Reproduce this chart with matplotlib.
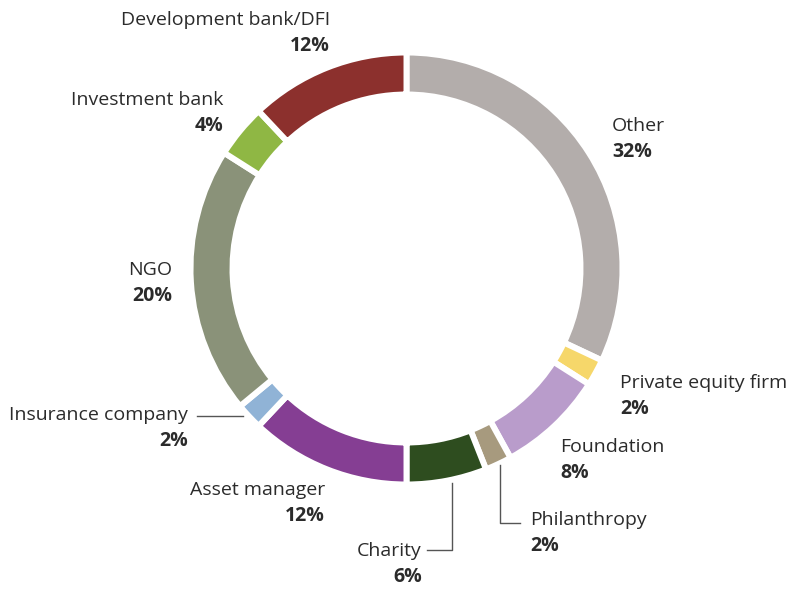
import matplotlib
matplotlib.use("Agg")
import matplotlib.pyplot as plt

# data, clockwise from the top
labels = ['Other', 'Private equity firm', 'Foundation', 'Philanthropy', 'Charity',
          'Asset manager', 'Insurance company', 'NGO', 'Investment bank',
          'Development bank/DFI']
values = [32, 2, 8, 2, 6, 12, 2, 20, 4, 12]
colors = ['#b3adab', '#f6d76a', '#b99ccb', '#a79a7e', '#2e4d1f',
          '#853e93', '#90b3d6', '#8a9279', '#8fb744', '#8c302d']

H = 589
fig = plt.figure(figsize=(7.89, 5.89), dpi=100)
ax = fig.add_axes([0, 0, 1, 1])
ax.axis('off')

ax.pie(values, colors=colors, startangle=90, counterclock=False,
       center=(406.5, H - 268.5), radius=216,
       wedgeprops=dict(width=42, edgecolor='white', linewidth=4.3))
ax.set_xlim(0, 789)
ax.set_ylim(0, H)
ax.set_aspect('equal')

plt.rcParams['font.family'] = ['Open Sans', 'DejaVu Sans']
txt = '#2b2b2b'
fs = 14

# label anchor (x, y of first line in image px, alignment)
pos = {
    'Development bank/DFI': (330, 20, 'right'),
    'Investment bank': (223, 100, 'right'),
    'Other': (612, 126, 'left'),
    'NGO': (172, 270, 'right'),
    'Private equity firm': (620, 383, 'left'),
    'Insurance company': (188, 415, 'right'),
    'Foundation': (560, 447, 'left'),
    'Asset manager': (325, 490, 'right'),
    'Philanthropy': (530, 520, 'left'),
    'Charity': (422, 551, 'right'),
}
for lab, val in zip(labels, values):
    x, y, ha = pos[lab]
    ax.text(x, H - y, lab, ha=ha, va='center', fontsize=fs, color=txt)
    ax.text(x, H - y - 26, f'{val}%', ha=ha, va='center', fontsize=fs,
            color=txt, fontweight='bold')

# leader lines
lc = '#555555'
ax.plot([197, 243], [H - 416, H - 416], color=lc, lw=1)
ax.plot([500, 500, 520], [H - 465, H - 523, H - 523], color=lc, lw=1)
ax.plot([452, 452, 427], [H - 483, H - 550, H - 550], color=lc, lw=1)

fig.savefig('out.png', dpi=100, facecolor='white')
